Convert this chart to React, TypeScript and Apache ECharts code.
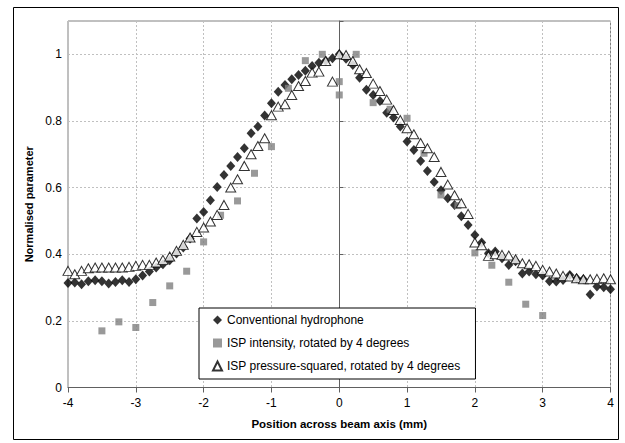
import React, { useEffect, useRef } from "react";
import * as echarts from "echarts";

// Positions (mm) for the 0.1 mm scans
const scanPositions = [
  -4.0, -3.9, -3.8, -3.7, -3.6, -3.5, -3.4, -3.3, -3.2, -3.1,
  -3.0, -2.9, -2.8, -2.7, -2.6, -2.5, -2.4, -2.3, -2.2, -2.1,
  -2.0, -1.9, -1.8, -1.7, -1.6, -1.5, -1.4, -1.3, -1.2, -1.1,
  -1.0, -0.9, -0.8, -0.7, -0.6, -0.5, -0.4, -0.3, -0.2, -0.1,
  0.0, 0.1, 0.2, 0.3, 0.4, 0.5, 0.6, 0.7, 0.8, 0.9,
  1.0, 1.1, 1.2, 1.3, 1.4, 1.5, 1.6, 1.7, 1.8, 1.9,
  2.0, 2.1, 2.2, 2.3, 2.4, 2.5, 2.6, 2.7, 2.8, 2.9,
  3.0, 3.1, 3.2, 3.3, 3.4, 3.5, 3.6, 3.7, 3.8, 3.9, 4.0,
];

const hydrophoneValues = [
  0.314, 0.315, 0.31, 0.319, 0.322, 0.319, 0.312, 0.317, 0.322, 0.317,
  0.325, 0.336, 0.348, 0.36, 0.37, 0.382, 0.402, 0.42, 0.447, 0.507,
  0.527, 0.562, 0.602, 0.638, 0.665, 0.692, 0.718, 0.763, 0.783, 0.816,
  0.853, 0.888, 0.908, 0.925, 0.938, 0.951, 0.965, 0.975, 0.981, 0.988,
  1.0, 0.987, 0.968, 0.93, 0.894, 0.878, 0.86, 0.825, 0.81, 0.783,
  0.738, 0.713, 0.68, 0.65, 0.617, 0.592, 0.568, 0.548, 0.514, 0.488,
  0.458, 0.435, 0.403, 0.408, 0.388, 0.368, 0.379, 0.342, 0.348, 0.34,
  0.336, 0.319, 0.318, 0.323, 0.338, 0.328, 0.325, 0.279, 0.303, 0.301, 0.295,
];

const pressureSquaredValues = [
  0.35, 0.34, 0.35, 0.358, 0.36, 0.36, 0.36, 0.36, 0.36, 0.362,
  0.365, 0.368, 0.368, 0.375, 0.383, 0.393, 0.41, 0.428, 0.45, 0.467,
  0.48, 0.498, 0.518, 0.548, 0.6, 0.625, 0.665, 0.7, 0.725, 0.748,
  0.817, 0.843, 0.85, 0.878, 0.905, 0.92, 0.945, 0.948, 0.98, 0.918,
  1.0, 0.998, 0.98, 0.955, 0.944, 0.912, 0.89, 0.864, 0.833, 0.803,
  0.778, 0.76, 0.734, 0.718, 0.692, 0.647, 0.609, 0.577, 0.553, 0.521,
  0.435, 0.427, 0.395, 0.4, 0.398, 0.396, 0.385, 0.373, 0.37, 0.365,
  0.353, 0.348, 0.342, 0.335, 0.333, 0.328, 0.325, 0.325, 0.326, 0.328, 0.325,
];

// ISP intensity, 0.25 mm steps
const intensityPositions = [
  -3.5, -3.25, -3.0, -2.75, -2.5, -2.25, -2.0, -1.75, -1.5, -1.25,
  -1.0, -0.75, -0.5, -0.25, 0.0, 0.0, 0.25, 0.5, 0.75, 1.0,
  1.25, 1.5, 1.75, 2.0, 2.25, 2.5, 2.75, 3.0,
];
const intensityValues = [
  0.17, 0.197, 0.18, 0.255, 0.305, 0.349, 0.437, 0.517, 0.56, 0.643,
  0.723, 0.898, 0.981, 1.0, 0.918, 0.878, 1.0, 0.855, 0.835, 0.808,
  0.703, 0.578, 0.546, 0.404, 0.367, 0.316, 0.25, 0.216,
];

const xTicks = [-4, -3, -2, -1, 0, 1, 2, 3, 4];
const yTickLabels = ["0", "0.2", "0.4", "0.6", "0.8", "1"];

const seriesNames = [
  "Conventional hydrophone",
  "ISP intensity, rotated by 4 degrees",
  "ISP pressure-squared, rotated by 4 degrees",
];

const zip = (xs: number[], ys: number[]) => xs.map((x, i) => [x, ys[i]]);

export default function App() {
  const ref = useRef<HTMLDivElement>(null);
  useEffect(() => {
    if (!ref.current) return;
    const chart = echarts.init(ref.current, undefined, { renderer: "svg" });
    const font = "'Liberation Sans', Arial, sans-serif";
    chart.setOption({
      animation: false,
      backgroundColor: "#ffffff",
      textStyle: { fontFamily: font },
      grid: {
        left: 68,
        right: 14.5,
        top: 21,
        bottom: 55.5,
        show: true,
        borderColor: "#808080",
        borderWidth: 1,
        backgroundColor: "transparent",
      },
      graphic: [
        {
          type: "rect",
          shape: { x: 13.5, y: 7.5, width: 605, height: 432 },
          style: { fill: "none", stroke: "#000000", lineWidth: 1 },
          silent: true,
          z: -10,
        },
      ],
      legend: {
        orient: "vertical",
        left: 199,
        top: 308,
        padding: [5, 15, 6, 13],
        itemGap: 9,
        itemWidth: 9,
        itemHeight: 9,
        backgroundColor: "#ffffff",
        borderColor: "#000000",
        borderWidth: 1,
        borderRadius: 0,
        textStyle: { fontSize: 12, color: "#000000", fontFamily: font, lineHeight: 14 },
        data: seriesNames,
      },
      xAxis: {
        type: "value",
        min: -4,
        max: 4,
        interval: 1,
        name: "Position across beam axis (mm)",
        nameLocation: "middle",
        nameGap: 30,
        nameTextStyle: { fontSize: 11.5, fontWeight: "bold", color: "#000", fontFamily: font },
        axisLine: { show: true, onZero: false, lineStyle: { color: "#606060", width: 1 } },
        axisTick: { show: true, length: 5, lineStyle: { color: "#606060" } },
        axisLabel: {
          fontSize: 12,
          color: "#000",
          margin: 9,
          formatter: (v: number) => (xTicks.includes(v) ? String(v) : ""),
        },
        splitLine: { show: true, lineStyle: { color: "#c0c0c0", type: [2, 2], width: 1 } },
      },
      yAxis: [
        {
          type: "value",
          min: 0,
          max: 1.1,
          interval: 0.2,
          name: "Normalised parameter",
          nameLocation: "middle",
          nameGap: 33,
          nameTextStyle: { fontSize: 11, fontWeight: "bold", color: "#000", fontFamily: font },
          axisLine: { show: false },
          axisTick: { show: false },
          axisLabel: {
            fontSize: 12,
            color: "#000",
            margin: 6,
            showMaxLabel: false,
            formatter: (v: number) => {
              const idx = Math.round(v / 0.2);
              return Math.abs(v - idx * 0.2) < 1e-6 && idx < yTickLabels.length ? yTickLabels[idx] : "";
            },
          },
          splitLine: { show: true, lineStyle: { color: "#c0c0c0", type: [2, 2], width: 1 } },
        },
        {
          type: "value",
          min: 0,
          max: 1.1,
          interval: 0.2,
          position: "left",
          offset: -271.5,
          axisLine: { show: true, onZero: false, lineStyle: { color: "#606060", width: 1 } },
          axisTick: { show: true, inside: true, length: 4, lineStyle: { color: "#606060" } },
          axisLabel: { show: false },
          splitLine: { show: false },
        },
      ],
      series: [
        {
          name: seriesNames[0],
          type: "scatter",
          data: zip(scanPositions, hydrophoneValues),
          symbol: "diamond",
          symbolSize: [9, 10],
          itemStyle: { color: "#000000" },
          z: 3,
        },
        {
          name: seriesNames[1],
          type: "scatter",
          data: zip(intensityPositions, intensityValues),
          symbol: "rect",
          symbolSize: 7,
          itemStyle: { color: "#808080" },
          z: 4,
        },
        {
          name: seriesNames[2],
          type: "scatter",
          data: zip(scanPositions, pressureSquaredValues),
          symbol: "triangle",
          symbolSize: [10, 9],
          itemStyle: { color: "#ffffff", borderColor: "#000000", borderWidth: 1 },
          z: 5,
        },
      ],
    });
    return () => chart.dispose();
  }, []);
  return <div ref={ref} style={{ width: 625, height: 443, position: "absolute", left: 0, top: 0 }} />;
}
